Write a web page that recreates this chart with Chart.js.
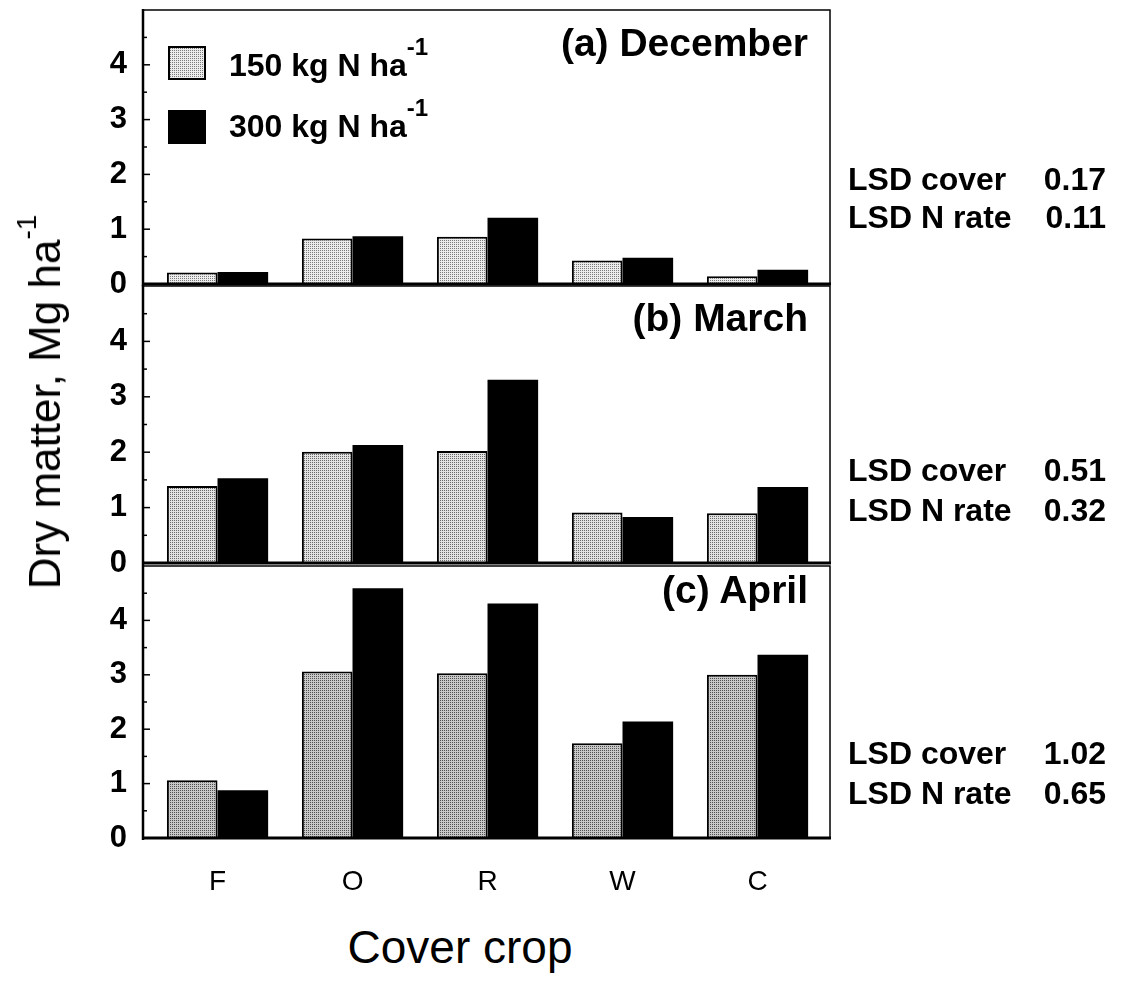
<!DOCTYPE html>
<html><head><meta charset="utf-8">
<script src="https://cdn.jsdelivr.net/npm/chart.js@4/dist/chart.umd.min.js"></script>
<style>
html,body{margin:0;padding:0;background:#fff;}
#wrap{position:relative;width:1121px;height:981px;overflow:hidden;font-family:"Liberation Sans",Arial,sans-serif;color:#000;background:#fff;}
canvas{position:absolute;left:0;}
.t{position:absolute;white-space:nowrap;line-height:1;}
.ptitle{font-size:39px;font-weight:bold;right:313px;}
.leg{font-size:32px;font-weight:bold;left:229px;}
.sup{position:relative;font-size:24px;top:-21px;}
.lsd{font-size:32px;font-weight:bold;}
.lsdl{left:848px;}
.lsdv{right:15px;}
.box{position:absolute;left:168px;width:38px;height:34px;box-sizing:border-box;border:2px solid #000;}
</style></head><body>
<div id="wrap">
<canvas id="cA" width="1121" height="310" style="top:0px"></canvas>
<canvas id="cB" width="1121" height="310" style="top:280px"></canvas>
<canvas id="cC" width="1121" height="340" style="top:560px"></canvas>

<div class="t ptitle" style="top:23px">(a) December</div>
<div class="t ptitle" style="top:298px">(b) March</div>
<div class="t ptitle" style="top:570px">(c) April</div>

<div class="box" id="box1" style="top:46px;background:#ddd"></div>
<div class="box" id="box2" style="top:110px;background:#000"></div>
<div class="t leg" id="leg1" style="top:49px"></div>
<div class="t leg" id="leg2" style="top:110px"></div>

<div class="t lsd lsdl" style="top:163px">LSD cover</div><div class="t lsd lsdv" style="top:163px" id="l0"></div>
<div class="t lsd lsdl" style="top:201px">LSD N rate</div><div class="t lsd lsdv" style="top:201px" id="l1"></div>
<div class="t lsd lsdl" style="top:454px">LSD cover</div><div class="t lsd lsdv" style="top:454px" id="l2"></div>
<div class="t lsd lsdl" style="top:494px">LSD N rate</div><div class="t lsd lsdv" style="top:494px" id="l3"></div>
<div class="t lsd lsdl" style="top:737px">LSD cover</div><div class="t lsd lsdv" style="top:737px" id="l4"></div>
<div class="t lsd lsdl" style="top:777px">LSD N rate</div><div class="t lsd lsdv" style="top:777px" id="l5"></div>

<div style="position:absolute;left:45px;top:402px;width:0;height:0;">
  <div class="t" style="left:0;top:0;font-size:44px;transform:translate(-50%,-50%) rotate(-90deg);">Dry matter, Mg ha<span style="position:relative;font-size:28px;top:-24px;">-1</span></div>
</div>
<div class="t" style="left:460px;top:924px;font-size:46px;transform:translateX(-50%);">Cover crop</div>
</div>

<script>
// ---- data ----
const categories = ['F', 'O', 'R', 'W', 'C'];
const seriesLabels = ['150 kg N ha', '300 kg N ha'];
const yTicks = [0, 1, 2, 3, 4];
const decLow  = [0.21, 0.83, 0.86, 0.43, 0.14];
const decHigh = [0.22, 0.87, 1.21, 0.48, 0.26];
const marLow  = [1.39, 2.01, 2.02, 0.91, 0.90];
const marHigh = [1.53, 2.13, 3.31, 0.83, 1.37];
const aprLow  = [1.06, 3.06, 3.03, 1.74, 3.00];
const aprHigh = [0.88, 4.59, 4.31, 2.14, 3.37];
const lsdCover = ['0.17', '0.51', '1.02'];
const lsdNrate = ['0.11', '0.32', '0.65'];

const FONT = "'Liberation Sans', Arial, sans-serif";

document.getElementById('leg1').innerHTML = seriesLabels[0] + '<span class="sup">-1</span>';
document.getElementById('leg2').innerHTML = seriesLabels[1] + '<span class="sup">-1</span>';
['l0','l2','l4'].forEach((id,i)=>document.getElementById(id).textContent = lsdCover[i]);
['l1','l3','l5'].forEach((id,i)=>document.getElementById(id).textContent = lsdNrate[i]);

function stipple(light, dark) {
  const c = document.createElement('canvas'); c.width = 2; c.height = 2;
  const g = c.getContext('2d');
  g.fillStyle = light; g.fillRect(0, 0, 2, 2);
  g.fillStyle = dark; g.fillRect(0, 0, 1, 1);
  return c;
}
const tileA = stipple('#ececec', '#7a7a7a');
const tileB = stipple('#e2e2e2', '#6a6a6a');
const tileC = stipple('#c8c8c8', '#505050');
const pctx = document.createElement('canvas').getContext('2d');
document.getElementById('box1').style.background = 'url(' + tileA.toDataURL() + ') repeat';

const frame = {
  id: 'frame',
  afterDatasetsDraw(chart) {
    const {ctx, chartArea: a, scales: {y}} = chart;
    ctx.save();
    ctx.strokeStyle = '#000';
    ctx.lineWidth = 1.5;
    ctx.strokeRect(a.left, a.top, a.right - a.left, a.bottom - a.top);
    ctx.lineWidth = 3;
    ctx.beginPath(); ctx.moveTo(a.left - 1, a.bottom); ctx.lineTo(a.right + 1, a.bottom); ctx.stroke();
    ctx.lineWidth = 2.5;
    ctx.beginPath(); ctx.moveTo(a.left, a.top - 1); ctx.lineTo(a.left, a.bottom + 2); ctx.stroke();
    ctx.lineWidth = 1.5;
    for (let k = 1; k < 10; k++) {
      const py = y.getPixelForValue(k / 2);
      const len = k % 2 === 0 ? 7 : 4;
      ctx.beginPath(); ctx.moveTo(a.left, py); ctx.lineTo(a.left + len, py); ctx.stroke();
    }
    ctx.restore();
  }
};

function makeChart(id, low, high, tile, showX, padTop, padBottom) {
  return new Chart(document.getElementById(id), {
    type: 'bar',
    data: {
      datasets: [
        { label: seriesLabels[0], data: low.map((v, i) => ({x: i, y: v})),
          backgroundColor: pctx.createPattern(tile, 'repeat'), borderColor: '#000', borderWidth: 2,
          borderSkipped: 'bottom', categoryPercentage: 0.75, barPercentage: 1.0 },
        { label: seriesLabels[1], data: high.map((v, i) => ({x: i, y: v})),
          backgroundColor: '#000', borderColor: '#000', borderWidth: 0,
          categoryPercentage: 0.75, barPercentage: 1.0 }
      ]
    },
    options: {
      responsive: false, animation: false, devicePixelRatio: 1,
      layout: { padding: { left: 0, right: 291, top: padTop, bottom: padBottom } },
      plugins: { legend: { display: false }, tooltip: { enabled: false } },
      scales: {
        x: {
          type: 'linear', min: -0.552, max: 4.537, offset: false, display: showX,
          grid: { display: false, drawTicks: false, offset: false }, border: { display: false },
          ticks: { stepSize: 1, includeBounds: false, autoSkip: false, maxRotation: 0, padding: 27,
                   color: '#000', font: { family: FONT, size: 28 },
                   callback: v => Number.isInteger(v) && categories[v] !== undefined ? categories[v] : '' },
          afterFit: s => { s.height = showX ? 62 : 0; s.paddingLeft = 0; s.paddingRight = 0; }
        },
        y: {
          min: 0, max: 5,
          grid: { display: false, drawTicks: false }, border: { display: false },
          afterBuildTicks: s => { s.ticks = yTicks.map(v => ({value: v})); },
          ticks: { padding: 16, color: '#000', font: { family: FONT, size: 31, weight: 'bold' } },
          afterFit: s => { s.width = 143; s.paddingTop = 0; s.paddingBottom = 0; }
        }
      }
    },
    plugins: [frame]
  });
}

makeChart('cA', decLow, decHigh, tileA, false, 10, 26);
makeChart('cB', marLow, marHigh, tileB, false, 6, 27);
makeChart('cC', aprLow, aprHigh, tileC, true, 6, 0);
</script>
</body></html>
